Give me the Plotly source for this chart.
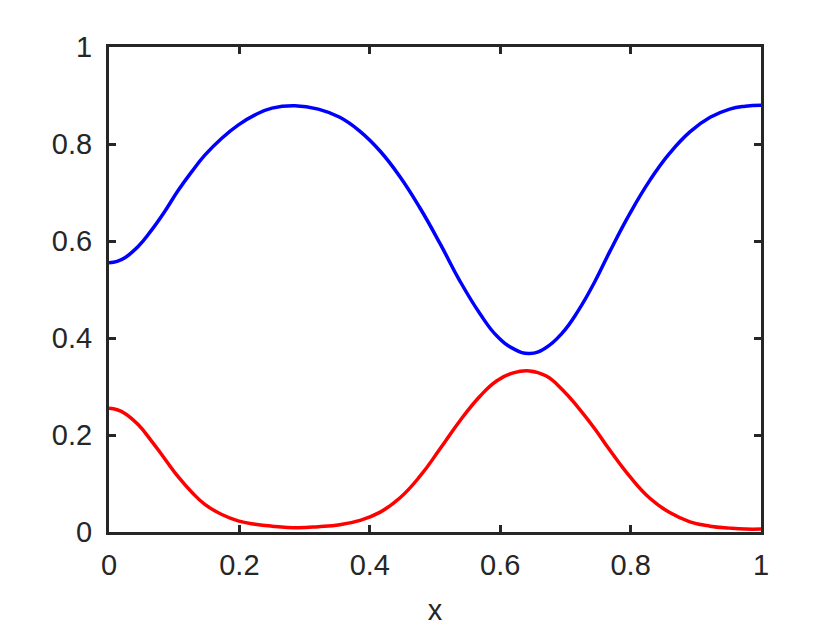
import plotly.graph_objects as go

blue_x = [0.000, 0.0125, 0.025, 0.045, 0.065, 0.086, 0.106, 0.127, 0.147, 0.173, 0.198, 0.224, 0.250,
          0.285, 0.321, 0.354, 0.385, 0.416, 0.446, 0.477, 0.508, 0.538, 0.569, 0.595, 0.620,
          0.645, 0.670, 0.695, 0.720, 0.745, 0.768, 0.799, 0.830, 0.860, 0.891, 0.922, 0.952, 0.976, 1.000]
blue_y = [0.555, 0.558, 0.566, 0.589, 0.622, 0.662, 0.704, 0.743, 0.777, 0.812, 0.839, 0.860, 0.874,
          0.879, 0.872, 0.855, 0.826, 0.785, 0.733, 0.668, 0.594, 0.518, 0.450, 0.404, 0.378,
          0.368, 0.380, 0.410, 0.457, 0.516, 0.578, 0.657, 0.726, 0.781, 0.825, 0.855, 0.872, 0.878, 0.880]

red_x = [0.000, 0.0125, 0.025, 0.045, 0.065, 0.086, 0.106, 0.127, 0.147, 0.173, 0.198, 0.224, 0.250,
         0.290, 0.321, 0.354, 0.385, 0.416, 0.446, 0.477, 0.508, 0.538, 0.569, 0.595, 0.620,
         0.645, 0.670, 0.695, 0.720, 0.745, 0.768, 0.799, 0.830, 0.860, 0.891, 0.922, 0.952, 0.976, 1.000]
red_y = [0.255, 0.252, 0.244, 0.221, 0.188, 0.150, 0.114, 0.082, 0.057, 0.036, 0.023, 0.016, 0.012,
         0.009, 0.011, 0.015, 0.024, 0.041, 0.070, 0.115, 0.172, 0.229, 0.280, 0.312, 0.328,
         0.332, 0.322, 0.294, 0.256, 0.213, 0.169, 0.114, 0.069, 0.040, 0.021, 0.012, 0.008, 0.006, 0.006]

tick_vals = [0, 0.2, 0.4, 0.6, 0.8, 1]
tick_text = ["0", "0.2", "0.4", "0.6", "0.8", "1"]

fig = go.Figure()
fig.add_trace(go.Scatter(x=blue_x, y=blue_y, mode="lines", line=dict(color="#0000ff", width=3.5, shape="spline", smoothing=1.3), showlegend=False))
fig.add_trace(go.Scatter(x=red_x, y=red_y, mode="lines", line=dict(color="#ff0000", width=3.5, shape="spline", smoothing=1.3), showlegend=False))

axis_common = dict(
    showline=True, linecolor="#262626", linewidth=3, mirror="ticks",
    ticks="inside", ticklen=7, tickwidth=3, tickcolor="#262626",
    showgrid=False, zeroline=False, automargin=False,
    tickfont=dict(family="Liberation Sans, Arial", size=29, color="#262626"),
    tickvals=tick_vals, ticktext=tick_text,
)

fig.update_xaxes(range=[0, 1], ticklabelstandoff=5,
                 title=dict(text="x", font=dict(family="Liberation Sans, Arial", size=29, color="#262626"), standoff=20),
                 **axis_common)
fig.update_yaxes(range=[0, 1], ticklabelstandoff=8, **axis_common)

fig.update_layout(
    width=832, height=622,
    margin=dict(l=101, r=79, t=39, b=98),
    plot_bgcolor="white", paper_bgcolor="white",
)

fig.write_html("out.html")
